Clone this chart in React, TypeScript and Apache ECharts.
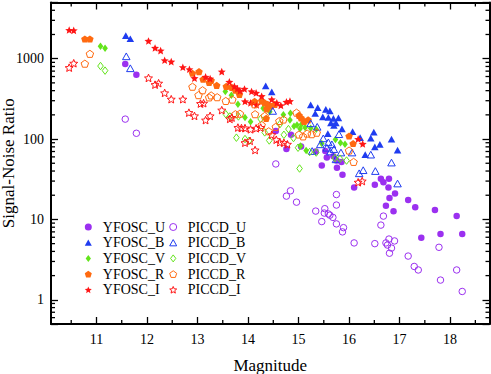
import React, { useEffect, useRef } from 'react';
import * as echarts from 'echarts';

const X_MIN = 10.1;
const X_MAX = 18.78;
const Y_MIN = 0.5;
const Y_MAX = 5000;

const xMajor = [11, 12, 13, 14, 15, 16, 17, 18];
const xMinor = [10.5, 11.5, 12.5, 13.5, 14.5, 15.5, 16.5, 17.5, 18.5];
const yMinor = [0.6, 0.7, 0.8, 0.9, 2, 3, 4, 5, 6, 7, 8, 9, 20, 30, 40, 50, 60, 70, 80, 90,
  200, 300, 400, 500, 600, 700, 800, 900, 2000, 3000, 4000];

const yfoscU = [[11.57, 860], [11.79, 630], [14.55, 126], [14.85, 113], [14.76, 75], [15.05, 81], [15.34, 70], [15.53, 71], [15.56, 59], [15.46, 47], [15.69, 61], [15.75, 54], [15.85, 52], [15.76, 44], [15.87, 36], [16.10, 25], [16.51, 27], [16.63, 32], [16.68, 29], [16.79, 32], [16.78, 25], [16.91, 21], [16.80, 18.5], [16.73, 14.8], [16.88, 12.6], [17.17, 17.4], [17.31, 14.2], [17.70, 13.1], [18.13, 11], [17.43, 5.9], [17.81, 6.6], [18.24, 6.6]];
const piccdU = [[11.57, 177], [11.79, 118], [14.55, 49], [14.84, 22.7], [14.76, 19.5], [14.96, 16.4], [15.34, 12.7], [15.52, 13.6], [15.51, 12.0], [15.59, 11.7], [15.62, 11.3], [15.68, 10.6], [15.46, 9.4], [15.75, 20.4], [15.75, 15.1], [15.75, 8.8], [15.89, 7.9], [15.87, 7.0], [16.10, 5.1], [16.51, 5.0], [16.68, 11.0], [16.63, 8.5], [16.73, 5.1], [16.76, 4.8], [16.79, 5.7], [16.90, 5.4], [16.84, 4.4], [16.80, 3.8], [17.17, 3.5], [17.29, 2.6], [17.37, 2.35], [17.81, 1.76], [17.78, 4.5], [18.13, 2.35], [18.24, 1.27]];
const yfoscB = [[11.58, 1930], [11.67, 1770], [14.35, 458], [14.47, 386], [15.24, 266], [15.38, 246], [15.54, 234], [15.62, 224], [15.33, 209], [15.48, 189], [15.59, 186], [15.69, 181], [15.79, 183], [15.64, 159], [15.74, 159], [15.70, 148], [15.86, 134], [15.58, 117], [16.07, 124], [16.22, 104], [16.43, 103], [16.49, 122], [16.51, 80], [16.61, 86], [16.84, 100], [16.96, 73], [16.32, 64]];
const piccdB = [[11.59, 1070], [11.67, 760], [14.49, 224], [15.24, 157], [15.37, 142], [15.49, 102], [15.59, 91], [15.66, 86], [15.43, 86], [15.56, 78], [15.63, 70], [15.70, 75], [15.80, 115], [15.84, 68], [15.74, 56], [16.06, 68], [16.43, 64], [16.20, 37.5], [16.28, 41], [16.52, 40], [16.84, 51], [16.96, 28], [15.27, 71]];
const yfoscV = [[11.08, 1430], [11.17, 1350], [13.55, 391], [13.67, 351], [13.80, 271], [13.94, 186], [14.05, 164], [14.30, 241], [14.70, 200], [14.84, 210], [14.83, 172], [14.91, 144], [14.97, 150], [15.03, 134], [15.06, 153], [15.13, 139], [15.24, 136], [15.35, 132], [15.15, 72], [15.04, 82], [15.46, 88], [15.73, 99], [15.83, 90], [15.92, 86], [14.43, 218]];
const piccdV = [[11.08, 810], [11.17, 710], [13.56, 204], [13.64, 191], [13.81, 191], [13.77, 104], [13.94, 100], [14.02, 95], [14.25, 178], [14.33, 121], [14.42, 96], [14.63, 153], [14.71, 113], [14.80, 133], [14.90, 103], [14.99, 78], [15.02, 43], [15.22, 69], [15.35, 68], [15.72, 58], [15.82, 57], [15.95, 54]];
const yfoscR = [[10.77, 1760], [10.87, 1760], [12.90, 659], [13.03, 690], [13.11, 555], [13.23, 506], [13.27, 536], [13.38, 465], [13.57, 452], [13.68, 439], [13.75, 405], [13.83, 359], [14.13, 294], [14.27, 298], [14.33, 282], [14.39, 270], [14.45, 258], [14.53, 270], [14.37, 237], [14.36, 181], [15.01, 197], [15.05, 183], [15.11, 166], [15.19, 173], [16.00, 109], [16.08, 88]];
const piccdR = [[10.77, 867], [10.87, 1150], [12.90, 448], [13.02, 352], [13.10, 405], [13.23, 330], [13.27, 349], [13.39, 332], [13.56, 298], [13.69, 310], [13.75, 204], [13.84, 207], [14.13, 271], [14.14, 204], [14.27, 150], [14.33, 194], [14.41, 125], [14.55, 142], [14.62, 168], [14.70, 175], [14.96, 213], [15.01, 114], [15.09, 108], [15.17, 117], [15.26, 115], [15.36, 120], [16.00, 72], [16.09, 52]];
const yfoscI = [[10.46, 2270], [10.55, 2250], [12.03, 1660], [12.16, 1360], [12.27, 1260], [12.35, 955], [12.48, 918], [12.71, 782], [12.84, 738], [12.94, 571], [13.16, 593], [13.25, 564], [13.48, 690], [13.63, 514], [13.73, 452], [13.79, 424], [13.84, 397], [13.93, 420], [13.94, 294], [14.07, 391], [14.05, 282], [14.16, 375], [14.17, 266], [14.27, 341], [14.47, 311], [14.57, 282], [14.65, 262], [14.76, 290], [14.83, 296], [16.18, 100], [16.27, 87]];
const piccdI = [[10.46, 773], [10.55, 877], [12.03, 576], [12.16, 475], [12.23, 495], [12.35, 375], [12.48, 313], [12.71, 313], [12.83, 213], [12.94, 194], [13.06, 276], [13.12, 279], [13.16, 172], [13.25, 194], [13.48, 229], [13.64, 178], [13.68, 185], [13.80, 139], [13.87, 137], [13.94, 137], [14.05, 132], [14.16, 136], [14.25, 139], [13.94, 90], [14.04, 95], [14.14, 73], [14.47, 113], [14.56, 98], [14.63, 91], [14.71, 90], [14.78, 86], [16.18, 29], [16.26, 30]];

const yfoscNames = ['YFOSC_U', 'YFOSC_B', 'YFOSC_V', 'YFOSC_R', 'YFOSC_I'];
const piccdNames = ['PICCD_U', 'PICCD_B', 'PICCD_V', 'PICCD_R', 'PICCD_I'];

const FONT = '"Liberation Serif", "Times New Roman", serif';
const CIRCLE = 'path://M0,-10A10,10,0,1,1,0,10A10,10,0,1,1,0,-10Z';
const TRIANGLE = 'path://M0,-10L9.5,7L-9.5,7Z';
const DIAMOND = 'path://M0,-10L7.5,0L0,10L-7.5,0Z';
const STAR = 'path://M0,-10L2.645,-3.64L9.51,-3.09L4.28,1.39L5.878,8.09L0,4.5L-5.878,8.09L-4.28,1.39L-9.51,-3.09L-2.645,-3.64Z';
const PENTA = 'path://M0,-10L9.51,-3.09L5.878,8.09L-5.878,8.09L-9.51,-3.09Z';

const COLORS = { U: '#9b30f0', B: '#1f3cf0', V: '#62e41a', R: '#ff6a10', I: '#ff1515' };

const bands = [
  { key: 'U', symbol: CIRCLE, size: 6.5, yf: yfoscU, pc: piccdU },
  { key: 'B', symbol: TRIANGLE, size: 7.5, yf: yfoscB, pc: piccdB },
  { key: 'V', symbol: DIAMOND, size: 7.5, yf: yfoscV, pc: piccdV },
  { key: 'R', symbol: PENTA, size: 7.5, yf: yfoscR, pc: piccdR },
  { key: 'I', symbol: STAR, size: 8, yf: yfoscI, pc: piccdI },
];

function tickLine(x1: number, y1: number, x2: number, y2: number) {
  return { type: 'line', shape: { x1, y1, x2, y2 }, style: { stroke: '#000', lineWidth: 1.3 } };
}

export default function App() {
  const ref = useRef<HTMLDivElement>(null);
  useEffect(() => {
    document.body.style.margin = '0';
    const chart = echarts.init(ref.current!, undefined, { renderer: 'svg' });
    const scatter: any[] = [];
    bands.forEach((b, i) => {
      const c = (COLORS as any)[b.key];
      scatter.push({
        name: yfoscNames[i], type: 'scatter', data: b.yf, symbol: b.symbol, symbolSize: b.size,
        symbolKeepAspect: true,
        itemStyle: { color: c, opacity: 1 },
      });
    });
    bands.forEach((b, i) => {
      const c = (COLORS as any)[b.key];
      scatter.push({
        name: piccdNames[i], type: 'scatter', data: b.pc, symbol: b.symbol, symbolSize: b.size,
        symbolKeepAspect: true,
        itemStyle: { color: 'rgba(255,255,255,0)', borderColor: c, borderWidth: 1, opacity: 1 },
      });
    });
    const tickData = [
      ...xMinor.map((v) => [v, Y_MIN, 0]),
      ...yMinor.map((v) => [X_MIN, v, 1]),
    ];
    const axisCommon = {
      axisLine: { show: true, lineStyle: { color: '#000', width: 2 } },
      splitLine: { show: false },
    };
    const legendCommon = {
      orient: 'vertical', top: 220, padding: 0,
      itemWidth: 7, itemHeight: 7, itemGap: 1.7, symbolKeepAspect: true,
      itemStyle: { borderWidth: 1 },
      textStyle: { fontFamily: FONT, fontSize: 14, color: '#000', padding: [0, 0, 0, 6] },
    };
    const option: any = {
      animation: false,
      backgroundColor: '#fff',
      textStyle: { fontFamily: FONT },
      grid: { left: 51, top: 2.5, right: 1.5, bottom: 50, containLabel: false, outerBoundsMode: 'none' },
      xAxis: [
        {
          type: 'value', min: X_MIN, max: X_MAX, position: 'bottom', ...axisCommon,
          axisTick: { show: true, inside: true, length: 7, customValues: xMajor, lineStyle: { color: '#000', width: 1.3 } },
          axisLabel: { customValues: xMajor, color: '#000', fontSize: 14, fontFamily: FONT, margin: 8 },
          name: 'Magnitude', nameLocation: 'middle', nameGap: 33, nameMoveOverlap: false,
          nameTextStyle: { fontSize: 17, fontFamily: FONT, color: '#000' },
        },
        {
          type: 'value', min: X_MIN, max: X_MAX, position: 'top', ...axisCommon,
          axisTick: { show: true, inside: true, length: 7, customValues: xMajor, lineStyle: { color: '#000', width: 1.3 } },
          axisLabel: { show: false },
        },
      ],
      yAxis: [
        {
          type: 'log', logBase: 10, min: Y_MIN, max: Y_MAX, position: 'left', ...axisCommon,
          axisTick: { show: true, inside: true, length: 7, lineStyle: { color: '#000', width: 1.3 } },
          minorTick: { show: false },
          axisLabel: {
            color: '#000', fontSize: 14, fontFamily: FONT, margin: 7,
            formatter: (v: number) => {
              const l = Math.log10(v);
              return Math.abs(l - Math.round(l)) < 1e-6 ? String(Math.round(v)) : '';
            },
          },
          name: 'Signal-Noise Ratio', nameLocation: 'middle', nameGap: 34, nameMoveOverlap: false,
          nameTextStyle: { fontSize: 17, fontFamily: FONT, color: '#000' },
        },
        {
          type: 'log', logBase: 10, min: Y_MIN, max: Y_MAX, position: 'right', ...axisCommon,
          axisTick: { show: true, inside: true, length: 7, lineStyle: { color: '#000', width: 1.3 } },
          axisLabel: { show: false },
        },
      ],
      legend: [
        { ...legendCommon, data: yfoscNames, left: 84.8 },
        { ...legendCommon, data: piccdNames, left: 169.2 },
      ],
      series: [
        ...scatter,
        {
          name: 'minorTicks', type: 'custom', silent: true, clip: false, z: 10,
          dimensions: ['x', 'y', 'k'], encode: { x: 0, y: 1 },
          data: tickData,
          renderItem: (params: any, api: any) => {
            const kind = api.value(2);
            if (kind === 0) {
              const v = api.value(0);
              const b = api.coord([v, Y_MIN]);
              const t = api.coord([v, Y_MAX]);
              return { type: 'group', children: [tickLine(b[0], b[1], b[0], b[1] - 4), tickLine(t[0], t[1], t[0], t[1] + 4)] };
            }
            const v = api.value(1);
            const l = api.coord([X_MIN, v]);
            const r = api.coord([X_MAX, v]);
            return { type: 'group', children: [tickLine(l[0], l[1], l[0] + 4, l[1]), tickLine(r[0], r[1], r[0] - 4, r[1])] };
          },
        },
      ],
    };
    chart.setOption(option);
    return () => chart.dispose();
  }, []);
  return <div ref={ref} style={{ position: 'fixed', left: 0, top: 0, width: 491, height: 374 }} />;
}
